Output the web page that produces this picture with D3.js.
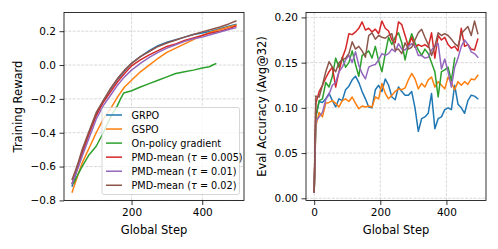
<!DOCTYPE html>
<html>
<head>
<meta charset="utf-8">
<title>Training reward and eval accuracy</title>
<script src="https://d3js.org/d3.v7.min.js"></script>
<style>
  body { margin: 0; background: #fff; }
  svg { display: block; font-family: "DejaVu Sans", sans-serif; }
  .grid line { stroke: #cfcfcf; stroke-width: 0.8px; stroke-dasharray: 3,1.3; }
  .axis path, .axis line { stroke: #000; stroke-width: 0.8px; }
  .axis text { font-size: 10.5px; fill: #000; font-family: "DejaVu Sans", sans-serif; }
  .label { font-size: 11.5px; fill: #000; }
  .series { fill: none; stroke-width: 1.5px; stroke-linejoin: round; stroke-linecap: square; }
  .legend text { font-size: 9.7px; fill: #000; }
</style>
</head>
<body>
<svg class="chart" width="498" height="249"></svg>
<script>
// ---- training reward (left) ----
var trainSteps = [32, 40, 50, 60, 80, 100, 120, 140, 160, 180, 200, 225, 250, 275, 300, 325, 350, 375, 400, 425, 450, 475, 495]
var grpoReward   = [-0.715, -0.66, -0.59, -0.52, -0.40, -0.29, -0.21, -0.145, -0.085, -0.035, 0.01, 0.05, 0.085, 0.115, 0.135, 0.15, 0.165, 0.18, 0.19, 0.20, 0.215, 0.23, 0.24]
var gspoReward   = [-0.75, -0.70, -0.64, -0.58, -0.49, -0.40, -0.32, -0.26, -0.19, -0.13, -0.09, -0.04, 0.0, 0.04, 0.075, 0.10, 0.125, 0.15, 0.175, 0.195, 0.21, 0.225, 0.235]
var pmd005Reward = [-0.70, -0.65, -0.585, -0.52, -0.405, -0.30, -0.22, -0.16, -0.10, -0.05, -0.005, 0.03, 0.06, 0.085, 0.11, 0.125, 0.145, 0.16, 0.175, 0.19, 0.20, 0.215, 0.23]
var pmd01Reward  = [-0.70, -0.655, -0.60, -0.54, -0.43, -0.32, -0.24, -0.18, -0.12, -0.07, -0.03, 0.01, 0.045, 0.075, 0.10, 0.12, 0.14, 0.155, 0.165, 0.18, 0.195, 0.21, 0.22]
var pmd02Reward  = [-0.675, -0.63, -0.57, -0.50, -0.39, -0.28, -0.21, -0.14, -0.08, -0.03, 0.01, 0.05, 0.08, 0.11, 0.13, 0.148, 0.165, 0.18, 0.196, 0.21, 0.225, 0.243, 0.26]
var onPolicySteps  = [36, 45, 60, 80, 100, 120, 140, 160, 170, 178, 190, 200, 225, 250, 275, 300, 325, 350, 375, 400, 420, 430, 438]
var onPolicyReward = [-0.70, -0.66, -0.60, -0.53, -0.48, -0.40, -0.31, -0.24, -0.195, -0.165, -0.158, -0.152, -0.13, -0.11, -0.09, -0.07, -0.05, -0.04, -0.03, -0.018, -0.01, 0.0, 0.008]

// ---- eval accuracy (right) ----
var evalSteps = [0, 5, 15, 25, 35, 45, 55, 65, 75, 85, 95, 105, 115, 125, 135, 145, 155, 165, 175, 185, 195,
  205, 215, 225, 235, 245, 255, 265, 275, 285, 295, 305, 315, 325, 335, 345, 355, 365, 375, 385, 395,
  405, 415, 425, 435, 445, 455, 465, 475, 485, 495]
var grpoAcc = [0.007, 0.09, 0.107, 0.106, 0.11, 0.116, 0.108, 0.101, 0.11, 0.108, 0.12, 0.124, 0.131, 0.135, 0.128, 0.118, 0.11, 0.101, 0.1, 0.12, 0.125,
  0.118, 0.132, 0.125, 0.112, 0.109, 0.123, 0.118, 0.114, 0.114, 0.118, 0.1, 0.074, 0.088, 0.09, 0.094, 0.116, 0.077, 0.088, 0.09, 0.098,
  0.1, 0.098, 0.125, 0.104, 0.1, 0.094, 0.108, 0.114, 0.113, 0.11]
var gspoAcc = [0.007, 0.08, 0.095, 0.09, 0.105, 0.106, 0.108, 0.105, 0.101, 0.108, 0.11, 0.107, 0.112, 0.105, 0.099, 0.102, 0.101, 0.102, 0.101, 0.112, 0.11,
  0.127, 0.116, 0.11, 0.114, 0.118, 0.121, 0.12, 0.122, 0.131, 0.138, 0.132, 0.121, 0.127, 0.123, 0.131, 0.134, 0.123, 0.129, 0.125, 0.121,
  0.134, 0.128, 0.12, 0.129, 0.125, 0.129, 0.126, 0.132, 0.131, 0.136]
var onPolicyAcc = [0.007, 0.09, 0.108, 0.11, 0.128, 0.123, 0.135, 0.155, 0.145, 0.156, 0.145, 0.15, 0.163, 0.148, 0.135, 0.158, 0.16, 0.163, 0.155, 0.168, 0.152,
  0.14, 0.16, 0.178, 0.17, 0.178, 0.183, 0.172, 0.153, 0.17, 0.182, 0.172, 0.164, 0.158, 0.165, 0.16, 0.15, 0.14, 0.112, 0.14, 0.142,
  0.145, 0.13, 0.155]
var pmd005Acc = [0.007, 0.105, 0.118, 0.125, 0.133, 0.14, 0.145, 0.123, 0.14, 0.155, 0.165, 0.182, 0.181, 0.184, 0.188, 0.195, 0.186, 0.188, 0.184, 0.187, 0.182,
  0.196, 0.188, 0.185, 0.175, 0.172, 0.195, 0.192, 0.18, 0.168, 0.178, 0.167, 0.17, 0.168, 0.17, 0.167, 0.183, 0.155, 0.18, 0.175, 0.178,
  0.17, 0.166, 0.168, 0.163, 0.188, 0.168, 0.17, 0.165, 0.164, 0.176]
var pmd01Acc = [0.007, 0.085, 0.09, 0.095, 0.109, 0.115, 0.125, 0.128, 0.14, 0.145, 0.153, 0.158, 0.15, 0.162, 0.147, 0.138, 0.132, 0.145, 0.147, 0.148, 0.153,
  0.16, 0.158, 0.16, 0.165, 0.162, 0.171, 0.165, 0.164, 0.168, 0.171, 0.168, 0.158, 0.158, 0.155, 0.156, 0.164, 0.168, 0.171, 0.143, 0.154,
  0.14, 0.123, 0.145, 0.155, 0.168, 0.175, 0.17, 0.162, 0.16, 0.156]
var pmd02Acc = [0.007, 0.113, 0.112, 0.125, 0.14, 0.151, 0.145, 0.14, 0.15, 0.153, 0.155, 0.16, 0.173, 0.165, 0.168, 0.163, 0.156, 0.18, 0.183, 0.176, 0.18,
  0.178, 0.177, 0.18, 0.182, 0.164, 0.165, 0.16, 0.172, 0.165, 0.167, 0.175, 0.183, 0.187, 0.178, 0.17, 0.158, 0.168, 0.183, 0.18, 0.182,
  0.18, 0.176, 0.171, 0.168, 0.182, 0.186, 0.19, 0.18, 0.196, 0.182]

var seriesNames = ['GRPO', 'GSPO', 'On-policy gradient', 'PMD-mean', 'PMD-mean', 'PMD-mean']
var tauLabels = [null, null, null, '0.005', '0.01', '0.02']
var colors = ['#1f77b4', '#ff7f0e', '#2ca02c', '#d62728', '#9467bd', '#8c564b']

var leftX = [200, 400], leftY = [-0.8, -0.6, -0.4, -0.2, 0.0, 0.2]
var rightX = [0, 200, 400], rightY = [0.00, 0.05, 0.10, 0.15, 0.20]

function zip(xs, ys) { return ys.map(function(v, i) { return [xs[i], v] }) }

var trainSeries = [
  zip(trainSteps, grpoReward), zip(trainSteps, gspoReward), zip(onPolicySteps, onPolicyReward),
  zip(trainSteps, pmd005Reward), zip(trainSteps, pmd01Reward), zip(trainSteps, pmd02Reward)
]
var evalSeries = [grpoAcc, gspoAcc, onPolicyAcc, pmd005Acc, pmd01Acc, pmd02Acc].map(function(a) { return zip(evalSteps, a) })

// matplotlib-like 5% margins
function padded(vals) {
  var e = d3.extent(vals), m = (e[1] - e[0]) * 0.05
  return [e[0] - m, e[1] + m]
}
function fmtMinus(f) { return function(d) { return f(d).replace('-', '\u2212') } }

var svg = d3.select('.chart')

function panel(opts) {
  var all = d3.merge(opts.series)
  var x = d3.scaleLinear().domain(padded(all.map(function(d) { return d[0] }))).range([opts.x0, opts.x1])
  var y = d3.scaleLinear().domain(padded(all.map(function(d) { return d[1] }))).range([opts.y1, opts.y0])
  var g = svg.append('g')

  var grid = g.append('g').attr('class', 'grid')
  grid.selectAll('.gx').data(opts.xt).enter().append('line')
    .attr('x1', x).attr('x2', x).attr('y1', opts.y0).attr('y2', opts.y1)
  grid.selectAll('.gy').data(opts.yt).enter().append('line')
    .attr('y1', y).attr('y2', y).attr('x1', opts.x0).attr('x2', opts.x1)

  var line = d3.line().x(function(d) { return x(d[0]) }).y(function(d) { return y(d[1]) })
  g.selectAll('.series').data(opts.series).enter().append('path')
    .attr('class', 'series')
    .attr('stroke', function(d, i) { return colors[i] })
    .attr('d', line)

  g.append('rect')
    .attr('x', opts.x0).attr('y', opts.y0)
    .attr('width', opts.x1 - opts.x0).attr('height', opts.y1 - opts.y0)
    .attr('fill', 'none').attr('stroke', '#000').attr('stroke-width', 0.8)

  g.append('g').attr('class', 'axis')
    .attr('transform', 'translate(0,' + opts.y1 + ')')
    .call(d3.axisBottom(x).tickValues(opts.xt).tickFormat(d3.format('d')).tickSize(4.5).tickPadding(3.5))
    .call(function(s) { s.select('.domain').remove() })
  g.append('g').attr('class', 'axis')
    .attr('transform', 'translate(' + opts.x0 + ',0)')
    .call(d3.axisLeft(y).tickValues(opts.yt).tickFormat(fmtMinus(d3.format(opts.yf))).tickSize(4.5).tickPadding(3.5))
    .call(function(s) { s.select('.domain').remove() })

  svg.append('text').attr('class', 'label')
    .attr('x', (opts.x0 + opts.x1) / 2).attr('y', 233.5)
    .attr('text-anchor', 'middle').text('Global Step')
  svg.append('text').attr('class', 'label')
    .attr('transform', 'translate(' + opts.lx + ',' + (opts.y0 + opts.y1) / 2 + ') rotate(-90)')
    .attr('text-anchor', 'middle').text(opts.ylabel)
}

panel({ series: trainSeries, x0: 64, x1: 244, y0: 12.5, y1: 200.5, xt: leftX, yt: leftY, yf: '.1f', lx: 22, ylabel: 'Training Reward' })
panel({ series: evalSeries, x0: 306, x1: 486, y0: 12.5, y1: 200.5, xt: rightX, yt: rightY, yf: '.2f', lx: 265.5, ylabel: 'Eval Accuracy (Avg@32)' })

// legend
var legend = svg.append('g').attr('class', 'legend')
legend.append('rect')
  .attr('x', 102).attr('y', 107.5).attr('width', 137.5).attr('height', 87).attr('rx', 2)
  .attr('fill', '#fff').attr('fill-opacity', 0.8).attr('stroke', '#cccccc').attr('stroke-width', 0.8)
var item = legend.selectAll('.item').data(d3.range(seriesNames.length)).enter().append('g')
  .attr('transform', function(i) { return 'translate(0,' + (115 + i * 14.05) + ')' })
item.append('line')
  .attr('x1', 106).attr('x2', 122).attr('y1', 0).attr('y2', 0)
  .attr('stroke', function(i) { return colors[i] }).attr('stroke-width', 1.5)
item.append('text').attr('x', 131.5).attr('y', 3.5).each(function(i) {
  var t = d3.select(this)
  if (!tauLabels[i]) { t.text(seriesNames[i]); return }
  t.append('tspan').text(seriesNames[i] + ' (')
  t.append('tspan').attr('font-style', 'italic').text('\u03c4')
  t.append('tspan').text(' = ' + tauLabels[i] + ')')
})
</script>
</body>
</html>
